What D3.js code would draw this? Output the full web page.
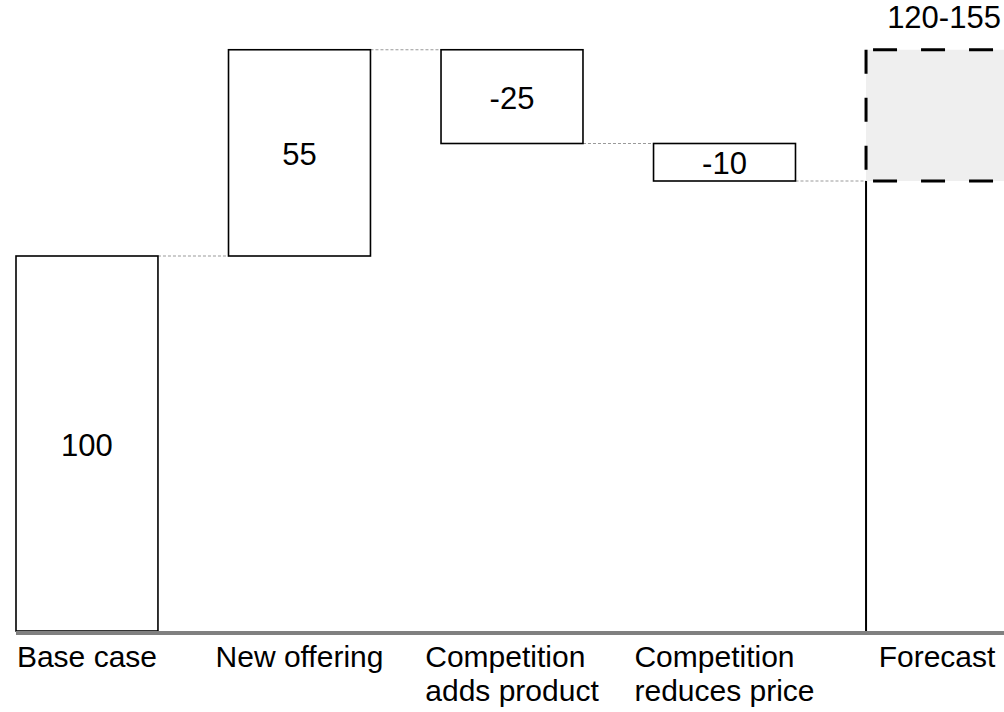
<!DOCTYPE html>
<html>
<head>
<meta charset="utf-8">
<script src="https://cdn.jsdelivr.net/npm/d3@7"></script>
<style>
  html, body { margin: 0; padding: 0; background: #fff; }
  svg { display: block; font-family: "Liberation Sans", Arial, sans-serif; }
</style>
</head>
<body>
<svg id="svg" width="1004" height="712"></svg>
<script>
// waterfall data
const categories = ["Base case", "New offering", "Competition\nadds product", "Competition\nreduces price", "Forecast"];
const deltas = [100, 55, -25, -10];
const forecastRange = [120, 155];

const svg = d3.select('#svg');

const x = d3.scaleBand()
    .domain(categories)
    .range([16, 1008])
    .paddingInner(0.332)
    .paddingOuter(0);

const y = d3.scaleLinear()
    .domain([0, 100])
    .range([631, 256]);

// running totals
let total = 0;
const steps = deltas.map((d, i) => {
    let start = total;
    total += d;
    return { cat: categories[i], value: d, start: start, end: total };
});

// connectors (dotted)
svg.append('g').selectAll('line')
    .data(d3.pairs(categories).map((p, i) => ({ from: p[0], to: p[1], level: steps[i].end })))
    .join('line')
    .attr('x1', d => x(d.from) + x.bandwidth())
    .attr('x2', d => x(d.to))
    .attr('y1', d => y(d.level))
    .attr('y2', d => y(d.level))
    .attr('stroke', '#999')
    .attr('stroke-width', 1)
    .attr('stroke-dasharray', '3,2');

// forecast box
const fc = categories[4];
const fx = x(fc);
svg.append('rect')
    .attr('x', fx)
    .attr('y', y(forecastRange[1]))
    .attr('width', x.bandwidth())
    .attr('height', y(forecastRange[0]) - y(forecastRange[1]))
    .attr('fill', '#efefef');

let dashed = svg.append('g')
    .attr('stroke', '#000')
    .attr('stroke-width', 3)
    .attr('stroke-dasharray', '24,24');
forecastRange.forEach(v => {
    dashed.append('line')
        .attr('x1', fx).attr('x2', fx + x.bandwidth())
        .attr('y1', y(v)).attr('y2', y(v))
        .attr('stroke-dashoffset', 41);
});
dashed.append('line')
    .attr('x1', fx).attr('x2', fx)
    .attr('y1', y(forecastRange[1])).attr('y2', y(forecastRange[0]));

// solid stem under forecast box
svg.append('line')
    .attr('x1', fx).attr('x2', fx)
    .attr('y1', y(0)).attr('y2', y(forecastRange[0]))
    .attr('stroke', '#000')
    .attr('stroke-width', 2);

svg.append('text')
    .attr('x', fx + x.bandwidth() / 2 + 7)
    .attr('y', 28)
    .attr('text-anchor', 'middle')
    .attr('font-size', 31)
    .text(forecastRange.join('-'));

// bars
svg.append('g').selectAll('rect')
    .data(steps)
    .join('rect')
    .attr('x', d => x(d.cat))
    .attr('y', d => y(Math.max(d.start, d.end)))
    .attr('width', x.bandwidth())
    .attr('height', d => Math.abs(y(d.start) - y(d.end)))
    .attr('fill', '#fff')
    .attr('stroke', '#000')
    .attr('stroke-width', 1.6);

svg.append('g').selectAll('text')
    .data(steps)
    .join('text')
    .attr('x', d => x(d.cat) + x.bandwidth() / 2)
    .attr('y', d => (y(d.start) + y(d.end)) / 2 + 12)
    .attr('text-anchor', 'middle')
    .attr('font-size', 31)
    .text(d => d.value);

// baseline
svg.append('line')
    .attr('x1', 16).attr('x2', 1004)
    .attr('y1', 633).attr('y2', 633)
    .attr('stroke', '#808080')
    .attr('stroke-width', 4);

// category labels: block centred on band, lines left aligned
categories.forEach(c => {
    let t = svg.append('text')
        .attr('font-size', 30)
        .attr('text-anchor', 'start');
    c.split('\n').forEach((line, i) => {
        t.append('tspan')
            .attr('y', 667 + i * 34)
            .text(line);
    });
    let w = d3.max(t.selectAll('tspan').nodes(), n => n.getComputedTextLength());
    t.selectAll('tspan').attr('x', x(c) + x.bandwidth() / 2 - w / 2);
});
</script>
</body>
</html>
